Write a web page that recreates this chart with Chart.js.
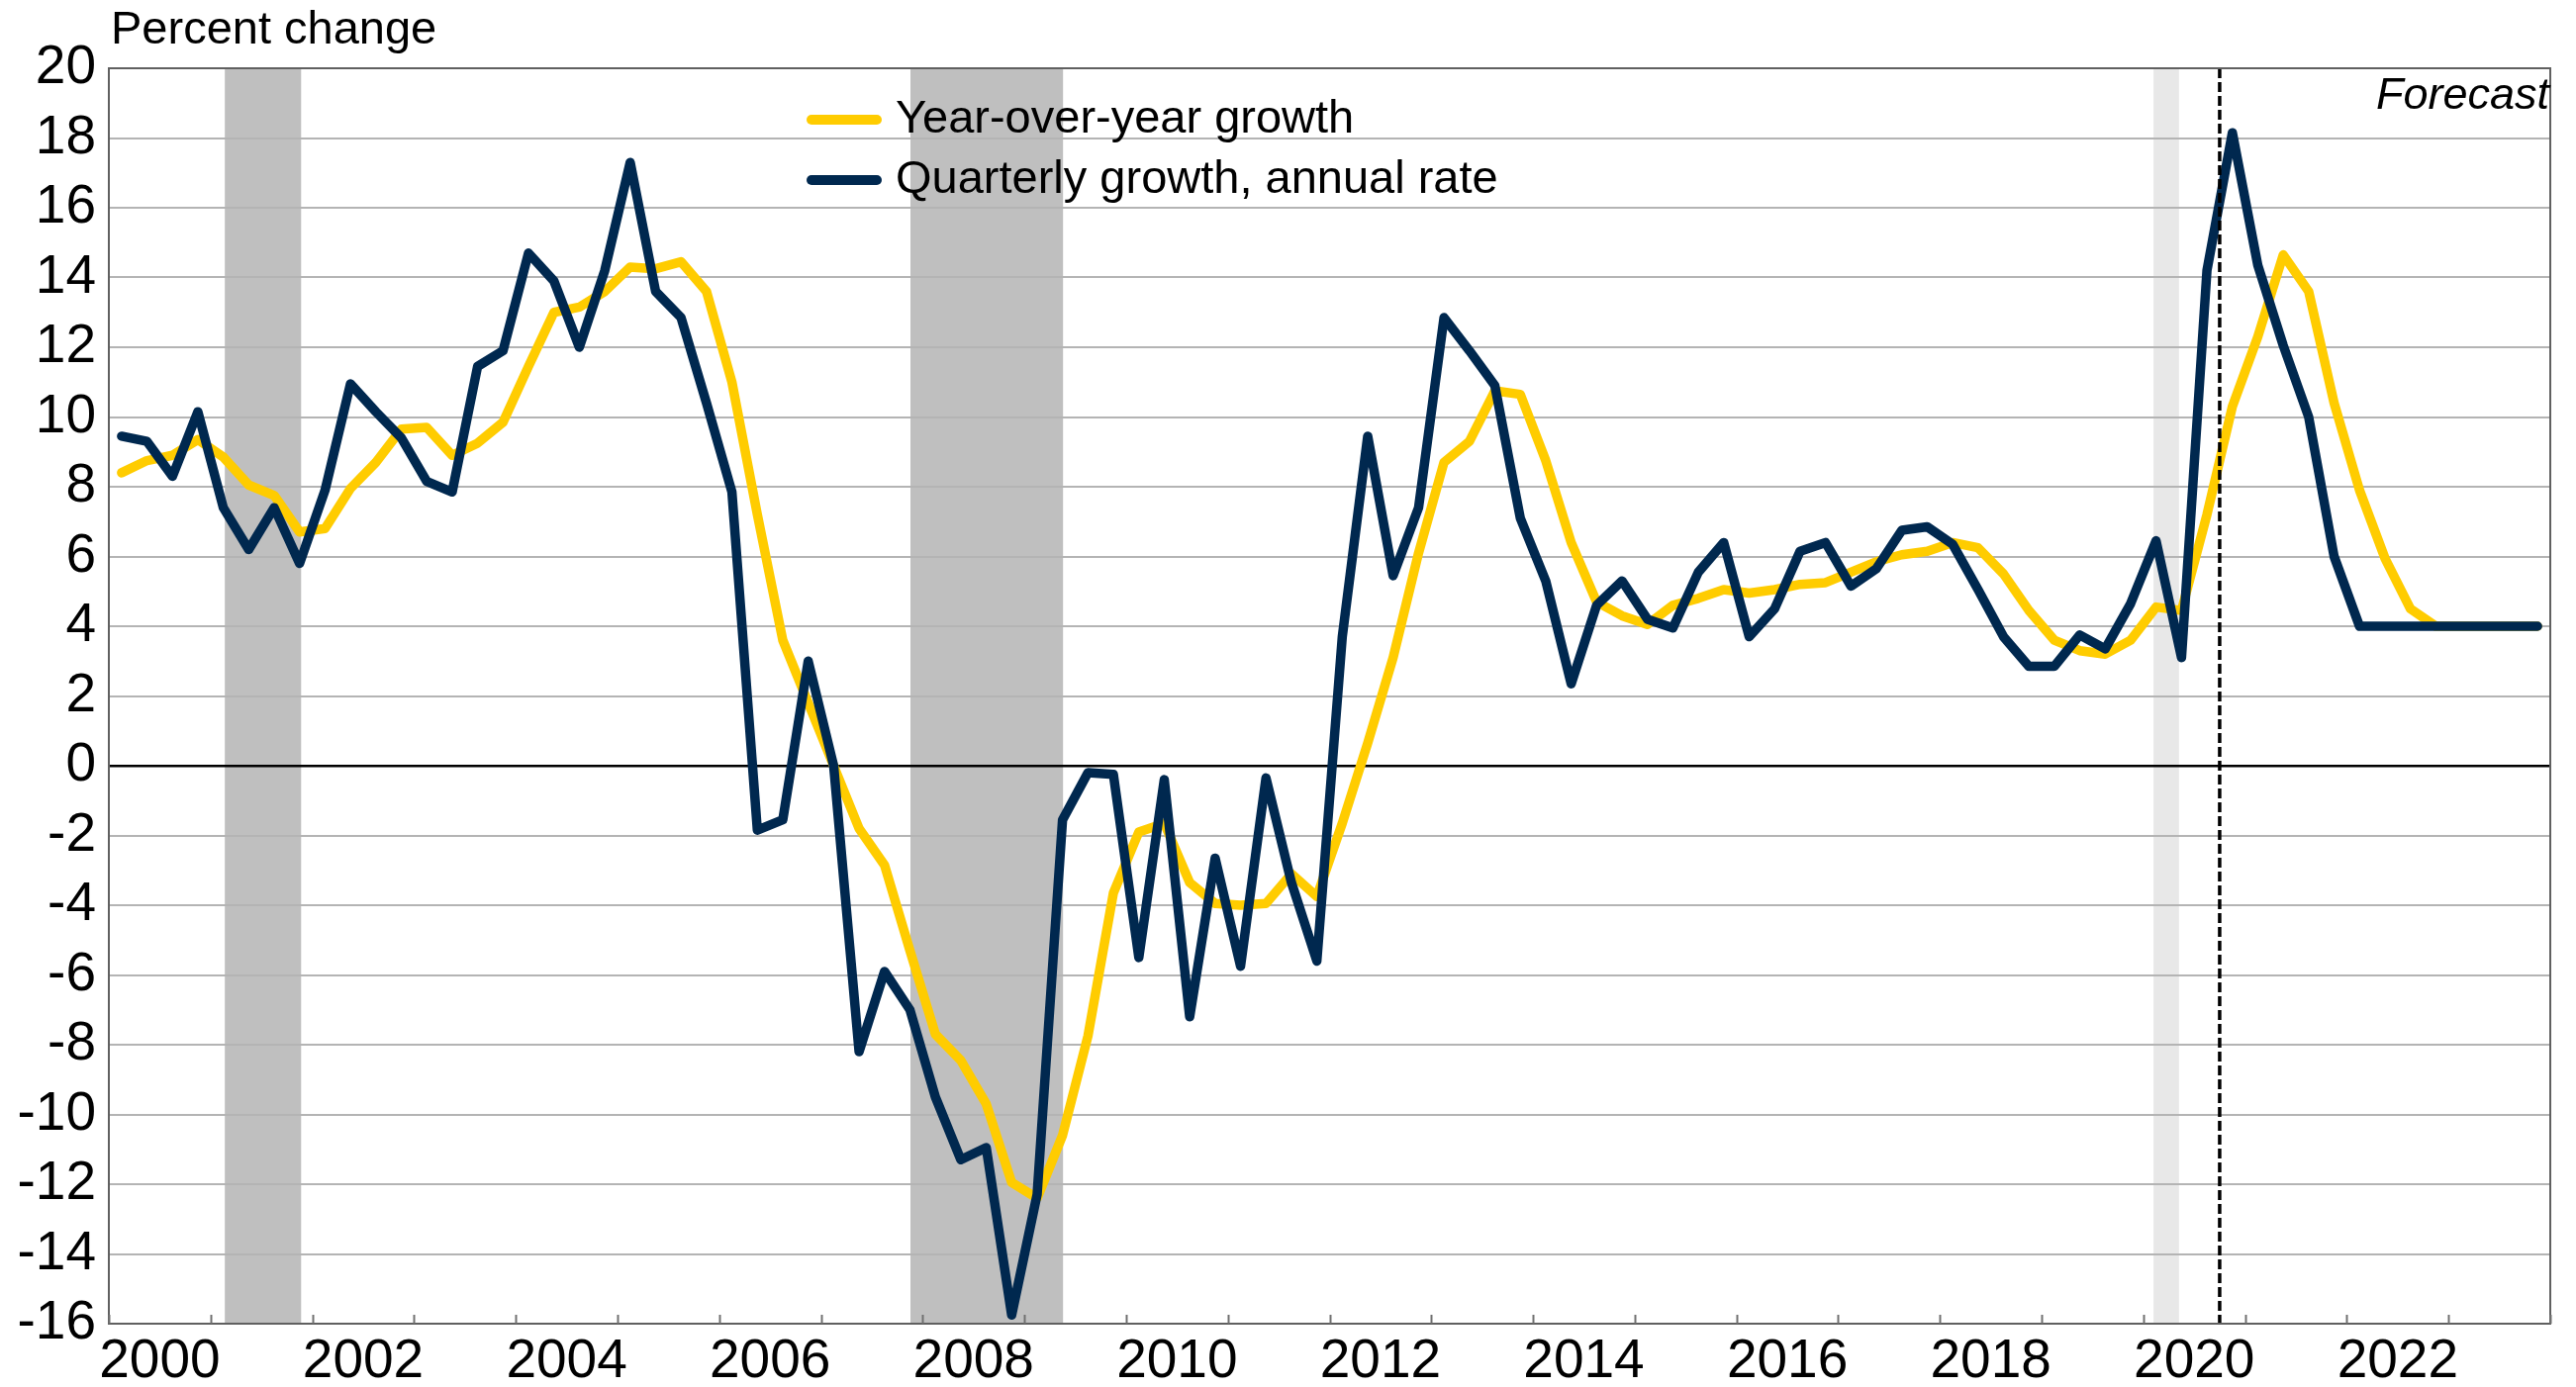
<!DOCTYPE html>
<html>
<head>
<meta charset="utf-8">
<script src="https://cdn.jsdelivr.net/npm/chart.js@4/dist/chart.umd.min.js"></script>
<style>
  html, body { margin: 0; padding: 0; background: #fff; }
  #wrap { width: 2603px; height: 1402px; }
</style>
</head>
<body>
<div id="wrap"><canvas id="chart" width="2603" height="1402"></canvas></div>
<script>
// quarterly categories, 2000 Q1 .. 2023 Q4
const quarters = [];
for (let y = 2000; y <= 2023; y++) {
    for (let q = 1; q <= 4; q++) quarters.push(y + " Q" + q);
}

const yoyGrowth = [
    8.4, 8.75, 8.9, 9.35, 8.85, 8.05, 7.75, 6.7,
    6.8, 7.95, 8.7, 9.65, 9.7, 8.9, 9.25, 9.85,
    11.45, 13.0, 13.15, 13.6, 14.3, 14.25, 14.45, 13.6,
    11.0, 7.2, 3.6, 1.8, 0.0, -1.8, -2.85, -5.3,
    -7.7, -8.45, -9.7, -11.95, -12.4, -10.6, -7.75, -3.65,
    -1.9, -1.65, -3.35, -3.95, -4.0, -3.95, -3.1, -3.75,
    -1.65, 0.65, 3.1, 6.1, 8.7, 9.3, 10.75, 10.65,
    8.75, 6.4, 4.7, 4.3, 4.05, 4.6, 4.8, 5.05,
    4.95, 5.05, 5.2, 5.25, 5.55, 5.85, 6.05, 6.15,
    6.4, 6.25, 5.5, 4.45, 3.6, 3.3, 3.2, 3.6,
    4.55, 4.45, 7.2, 10.3, 12.3, 14.65, 13.6, 10.4,
    7.9, 5.95, 4.5, 4.0, 4.0, 4.0, 4.0, 4.0
];

const qtrGrowth = [
    9.45, 9.3, 8.3, 10.15, 7.4, 6.2, 7.4, 5.8,
    7.9, 10.95, 10.15, 9.4, 8.15, 7.85, 11.45, 11.9,
    14.7, 13.9, 12.0, 14.2, 17.3, 13.6, 12.85, 10.4,
    7.85, -1.85, -1.55, 3.0, 0.0, -8.2, -5.9, -7.0,
    -9.5, -11.3, -10.95, -15.75, -12.3, -1.55, -0.2, -0.25,
    -5.5, -0.4, -7.2, -2.65, -5.75, -0.35, -3.35, -5.6,
    3.7, 9.45, 5.45, 7.4, 12.85, 11.9, 10.9, 7.1,
    5.3, 2.35, 4.6, 5.3, 4.2, 3.95, 5.55, 6.4,
    3.7, 4.5, 6.15, 6.4, 5.15, 5.65, 6.75, 6.85,
    6.35, 5.05, 3.7, 2.85, 2.85, 3.75, 3.35, 4.65,
    6.45, 3.1, 14.2, 18.15, 14.35, 12.05, 10.0, 6.0,
    4.0, 4.0, 4.0, 4.0, 4.0, 4.0, 4.0, 4.0
];

const yearLabels = ["2000", "2002", "2004", "2006", "2008", "2010",
                    "2012", "2014", "2016", "2018", "2020", "2022"];

// recessions as decimal years
const recessionStart = [2001.14, 2007.88, 2020.10];
const recessionEnd = [2001.89, 2009.38, 2020.35];
const forecastStart = 2020.75;

const FONT = "'Liberation Sans', Arial, sans-serif";
const YELLOW = "#ffcc00";
const NAVY = "#00284f";

function toAxis(yr) { return (yr - 2000) * 4; }

const decor = {
    id: "decor",
    beforeDraw(chart) {
        const { ctx, chartArea: a, scales: { x } } = chart;
        ctx.save();
        ctx.fillStyle = "#fff";
        ctx.fillRect(0, 0, chart.width, chart.height);
        for (let i = 0; i < recessionStart.length; i++) {
            const x0 = x.getPixelForValue(toAxis(recessionStart[i]));
            const x1 = x.getPixelForValue(toAxis(recessionEnd[i]));
            ctx.fillStyle = i === 2 ? "#e8e8e8" : "#bfbfbf";
            ctx.fillRect(x0, a.top, x1 - x0, a.bottom - a.top);
        }
        ctx.restore();
    },
    afterDatasetsDraw(chart) {
        const { ctx, chartArea: a, scales: { x } } = chart;
        ctx.save();
        // forecast divider
        const fx = x.getPixelForValue(toAxis(forecastStart));
        ctx.strokeStyle = "#000";
        ctx.lineWidth = 3.5;
        ctx.setLineDash([10, 4]);
        ctx.beginPath();
        ctx.moveTo(fx, a.top);
        ctx.lineTo(fx, a.bottom);
        ctx.stroke();
        ctx.setLineDash([]);

        // plot frame
        ctx.strokeStyle = "#606060";
        ctx.lineWidth = 2;
        ctx.strokeRect(a.left, a.top, a.right - a.left, a.bottom - a.top);

        // inward year ticks
        ctx.strokeStyle = "#707070";
        ctx.lineWidth = 2;
        for (const t of x.ticks) {
            const px = Math.round(x.getPixelForValue(t.value)) + 0.5;
            ctx.beginPath();
            ctx.moveTo(px, a.bottom);
            ctx.lineTo(px, a.bottom - 9);
            ctx.stroke();
        }
        ctx.restore();
    },
    afterDraw(chart) {
        const { ctx, chartArea: a } = chart;
        ctx.save();
        ctx.fillStyle = "#000";
        ctx.textBaseline = "alphabetic";

        ctx.font = "47px " + FONT;
        ctx.textAlign = "left";
        ctx.fillText("Percent change", a.left + 2, 44);

        ctx.font = "italic 45px " + FONT;
        ctx.textAlign = "right";
        ctx.fillText("Forecast", a.right - 1, 110);

        // legend
        ctx.font = "47px " + FONT;
        ctx.textAlign = "left";
        chart.data.datasets.forEach((ds, i) => {
            const cy = 121 + i * 61;
            ctx.strokeStyle = ds.borderColor;
            ctx.lineWidth = 10;
            ctx.lineCap = "round";
            ctx.beginPath();
            ctx.moveTo(a.left + 710, cy);
            ctx.lineTo(a.left + 776, cy);
            ctx.stroke();
            ctx.fillText(ds.label, a.left + 795, cy + 13);
        });
        ctx.restore();
    }
};

new Chart(document.getElementById("chart"), {
    type: "line",
    data: {
        datasets: [
            {
                label: "Year-over-year growth",
                data: yoyGrowth.map((v, i) => ({ x: i + 0.5, y: v, q: quarters[i] })),
                borderColor: YELLOW,
                borderWidth: 9.5,
                order: 2
            },
            {
                label: "Quarterly growth, annual rate",
                data: qtrGrowth.map((v, i) => ({ x: i + 0.5, y: v, q: quarters[i] })),
                borderColor: NAVY,
                borderWidth: 9.5,
                order: 1
            }
        ]
    },
    options: {
        responsive: false,
        animation: false,
        events: [],
        layout: { padding: { top: 69, right: 26, bottom: 0, left: 0 } },
        elements: {
            point: { radius: 0 },
            line: { tension: 0, borderJoinStyle: "round", borderCapStyle: "round" }
        },
        plugins: {
            legend: { display: false },
            tooltip: { enabled: false }
        },
        scales: {
            x: {
                type: "linear",
                min: 0,
                max: quarters.length,
                afterBuildTicks(scale) {
                    const t = [];
                    for (let v = 0; v <= quarters.length; v += 4) t.push({ value: v });
                    scale.ticks = t;
                },
                afterFit(scale) { scale.height = 64; },
                grid: { display: false, drawTicks: false },
                border: { display: false },
                ticks: {
                    autoSkip: false,
                    maxRotation: 0,
                    padding: 6,
                    labelOffset: 51.4,
                    color: "#000",
                    font: { family: FONT, size: 55 },
                    callback(v) {
                        return v % 8 === 0 ? (yearLabels[v / 8] || "") : "";
                    }
                }
            },
            y: {
                min: -16,
                max: 20,
                afterFit(scale) { scale.width = 110; },
                ticks: {
                    stepSize: 2,
                    padding: 13,
                    color: "#000",
                    font: { family: FONT, size: 55 }
                },
                grid: {
                    drawTicks: false,
                    color: c => c.tick && c.tick.value === 0 ? "#000" : "#b4b4b4",
                    lineWidth: c => c.tick && c.tick.value === 0 ? 2.5 : 2
                },
                border: { display: false }
            }
        }
    },
    plugins: [decor]
});
</script>
</body>
</html>
